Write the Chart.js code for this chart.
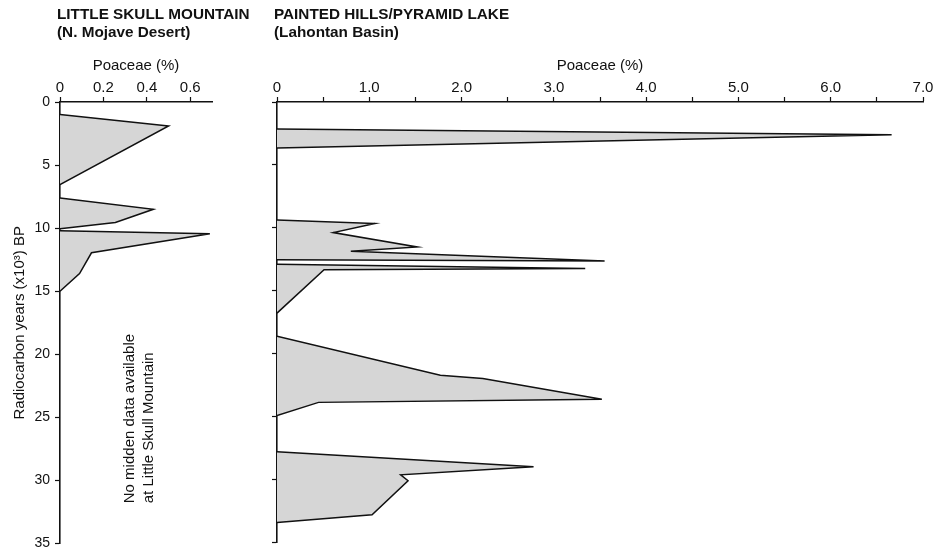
<!DOCTYPE html>
<html>
<head>
<meta charset="utf-8">
<script src="https://cdn.jsdelivr.net/npm/chart.js@4.4.0/dist/chart.umd.min.js"></script>
<style>
html, body { margin: 0; padding: 0; background: #fff; }
#wrap { position: relative; width: 941px; height: 548px; overflow: hidden; }
#left { position: absolute; left: 0; top: 0; }
#right { position: absolute; left: 255px; top: 0; }
</style>
</head>
<body>
<div id="wrap">
  <canvas id="left" width="260" height="557"></canvas>
  <canvas id="right" width="686" height="553"></canvas>
</div>
<script>
// ages in 10^3 radiocarbon years BP, one group per filled peak
const skullAge = [
  [1.0, 1.9, 6.55],
  [7.6, 8.5, 9.55, 10.05],
  [10.2, 10.45, 11.95, 13.6, 15.0]
];
const skullPoaceae = [
  [0, 0.5, 0],
  [0, 0.43, 0.255, 0],
  [0, 0.69, 0.145, 0.09, 0]
];

const lakeAge = [
  [2.15, 2.6, 3.65],
  [9.36, 9.65, 10.37, 11.51, 11.85, 12.62, 12.52],
  [12.89, 13.23, 13.31, 16.76],
  [18.6, 21.7, 21.95, 23.6, 23.85, 24.9],
  [27.77, 28.96, 29.6, 30.07, 32.78, 33.39]
];
const lakePoaceae = [
  [0, 6.66, 0],
  [0, 1.06, 0.61, 1.52, 0.80, 3.55, 0],
  [0, 3.34, 0.51, 0],
  [0, 1.77, 2.23, 3.52, 0.45, 0],
  [0, 2.78, 1.34, 1.42, 1.03, 0]
];

const ageMax = 35;
const noteLines = ['No midden data available', 'at Little Skull Mountain'];

Chart.defaults.font.family = "'Liberation Sans', Arial, Helvetica, sans-serif";
Chart.defaults.color = '#111';

function peaks(ages, vals) {
  return ages.map((a, i) => ({
    data: a.map((y, j) => ({ x: vals[i][j], y: y })),
    showLine: true,
    fill: 'shape',
    backgroundColor: '#d6d6d6',
    borderColor: '#111',
    borderWidth: 1.5,
    pointRadius: 0,
    tension: 0
  }));
}

const axisGrid = { drawOnChartArea: false, drawTicks: true, tickLength: 5, color: '#111', tickWidth: 1.2 };
const axisBorder = { color: '#111', width: 1.6 };

// site heading, left edge just before the y axis (the built-in title gets squeezed to the chart width)
const headingPlugin = {
  id: 'heading',
  afterDraw(chart, args, opts) {
    const { ctx, chartArea } = chart;
    ctx.save();
    ctx.font = "bold 15.3px 'Liberation Sans', Arial, sans-serif";
    ctx.fillStyle = '#111';
    ctx.textAlign = 'left';
    ctx.textBaseline = 'middle';
    (opts.lines || []).forEach((t, i) => ctx.fillText(t, chartArea.left - 3, 15 + i * 18));
    ctx.restore();
  }
};

const notePlugin = {
  id: 'note',
  afterDraw(chart) {
    const { ctx, scales: { x, y } } = chart;
    ctx.save();
    ctx.font = "15px 'Liberation Sans', Arial, sans-serif";
    ctx.fillStyle = '#111';
    ctx.textAlign = 'left';
    ctx.textBaseline = 'middle';
    ctx.translate(x.getPixelForValue(0.32), y.getPixelForValue(31.8));
    ctx.rotate(-Math.PI / 2);
    noteLines.forEach((t, i) => ctx.fillText(t, 0, i * 19));
    ctx.restore();
  }
};

// Little Skull Mountain
new Chart(document.getElementById('left'), {
  type: 'scatter',
  data: { datasets: peaks(skullAge, skullPoaceae) },
  options: {
    responsive: false,
    animation: false,
    layout: { padding: { left: 4, right: 48, top: 42, bottom: 6 } },
    plugins: {
      legend: { display: false },
      tooltip: { enabled: false },
      heading: { lines: ['LITTLE SKULL MOUNTAIN', '(N. Mojave Desert)'] }
    },
    scales: {
      x: {
        type: 'linear', position: 'top', min: 0, max: 0.7,
        grid: axisGrid, border: axisBorder,
        ticks: {
          stepSize: 0.1, padding: 0, maxRotation: 0, font: { size: 15 },
          callback: v => v === 0 ? '0' : (Math.round(v * 10) % 2 === 0 ? v.toFixed(1) : '')
        },
        title: { display: true, text: 'Poaceae (%)', font: { size: 15 }, padding: { top: 15, bottom: 0 } },
        afterFit: s => { s.height = 60; }
      },
      y: {
        type: 'linear', reverse: true, min: 0, max: ageMax,
        grid: axisGrid, border: axisBorder,
        ticks: { stepSize: 5, padding: 5, font: { size: 14 } },
        title: { display: true, text: 'Radiocarbon years (x10³) BP', font: { size: 15 }, padding: { top: 7, bottom: 0 } },
        afterFit: s => { s.width = 56; }
      }
    }
  },
  plugins: [headingPlugin, notePlugin]
});

// Painted Hills / Pyramid Lake
new Chart(document.getElementById('right'), {
  type: 'scatter',
  data: { datasets: peaks(lakeAge, lakePoaceae) },
  options: {
    responsive: false,
    animation: false,
    layout: { padding: { left: 20, right: 18, top: 42, bottom: 6 } },
    plugins: {
      legend: { display: false },
      tooltip: { enabled: false },
      heading: { lines: ['PAINTED HILLS/PYRAMID LAKE', '(Lahontan Basin)'] }
    },
    scales: {
      x: {
        type: 'linear', position: 'top', min: 0, max: 7,
        grid: axisGrid, border: axisBorder,
        ticks: {
          stepSize: 0.5, padding: 0, maxRotation: 0, font: { size: 15 },
          callback: v => v === 0 ? '0' : (Number.isInteger(v) ? v.toFixed(1) : '')
        },
        title: { display: true, text: 'Poaceae (%)', font: { size: 15 }, padding: { top: 15, bottom: 0 } },
        afterFit: s => { s.height = 60; }
      },
      y: {
        type: 'linear', reverse: true, min: 0, max: ageMax,
        grid: axisGrid, border: axisBorder,
        ticks: { stepSize: 5, callback: () => '' },
        afterFit: s => { s.width = 2; }
      }
    }
  },
  plugins: [headingPlugin]
});
</script>
</body>
</html>
